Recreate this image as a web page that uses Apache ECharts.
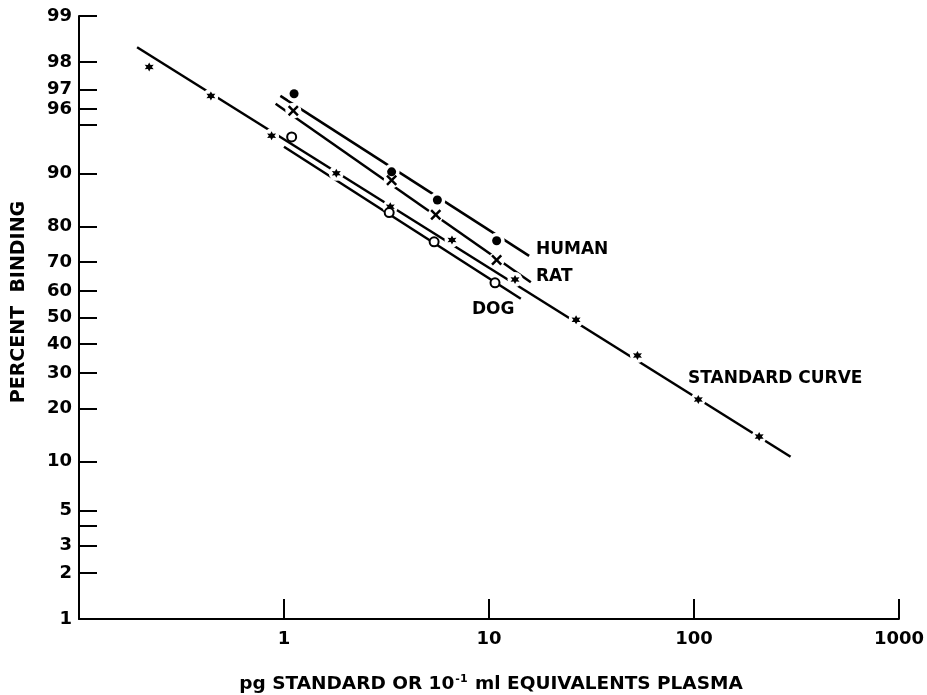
<!DOCTYPE html>
<html>
<head>
<meta charset="utf-8">
<script src="https://cdn.jsdelivr.net/npm/echarts@6/dist/echarts.min.js"></script>
<style>html,body{margin:0;padding:0;background:#fff}#c{width:927px;height:695px}</style>
</head>
<body>
<div id="c"></div>
<script>
// ---- data (x: pg / equivalents, y: percent binding) ----
const stdX = [0.22, 0.44, 0.87, 1.8, 3.3, 6.6, 13.4, 26.6, 53, 105, 208];
const stdY = [97.85, 96.7, 94.1, 90.0, 84.4, 76.5, 64.1, 49.1, 35.9, 22.3, 14.0];
const humanX = [1.12, 3.35, 5.6, 10.9];
const humanY = [96.8, 90.2, 85.7, 76.3];
const ratX = [1.11, 3.35, 5.5, 10.9];
const ratY = [95.9, 89.0, 82.7, 70.6];
const dogX = [1.09, 3.26, 5.4, 10.7];
const dogY = [94.0, 83.2, 76.0, 62.9];
// fitted lines (end points)
const stdLineX = [0.192, 296];
const stdLineY = [98.4, 10.7];
const humanLineX = [0.96, 15.7];
const humanLineY = [96.7, 71.9];
const ratLineX = [0.91, 16.0];
const ratLineY = [96.3, 63.1];
const dogLineX = [1.0, 14.3];
const dogLineY = [93.1, 57.1];
// axis ticks
const yTickPct = [1, 2, 3, 4, 5, 10, 20, 30, 40, 50, 60, 70, 80, 90, 95, 96, 97, 98, 99];
const yLabelPct = [1, 2, 3, 5, 10, 20, 30, 40, 50, 60, 70, 80, 90, 96, 97, 98, 99];
const xTicks = [1, 10, 100, 1000];
const seriesNames = ['HUMAN', 'RAT', 'DOG', 'STANDARD CURVE'];

const logit = p => Math.log((p / 100) / (1 - p / 100));
const pts = (xs, ys) => xs.map((x, i) => [x, logit(ys[i])]);

const FONT = 'DejaVu Sans';
const star = 'path://M5,0L6.3,2.75L9.33,2.5L7.6,5L9.33,7.5L6.3,7.25L5,10L3.7,7.25L0.67,7.5L2.4,5L0.67,2.5L3.7,2.75Z';
const cross = 'path://M0,1.6L1.6,0L5,3.4L8.4,0L10,1.6L6.6,5L10,8.4L8.4,10L5,6.6L1.6,10L0,8.4L3.4,5Z';

function lineSeries(xs, ys) {
  return { type: 'line', data: pts(xs, ys), symbol: 'none', z: 2, silent: true,
    lineStyle: { color: '#000', width: 2.5 }, animation: false };
}
function maskSeries(xs, ys, size) {
  return { type: 'scatter', data: pts(xs, ys), symbol: 'circle', symbolSize: size, z: 3, silent: true,
    itemStyle: { color: '#fff', opacity: 1 }, animation: false };
}
function scatterSeries(name, xs, ys, symbol, size, style) {
  return { name: name, type: 'scatter', data: pts(xs, ys), symbol: symbol, symbolSize: size, z: 4,
    itemStyle: Object.assign({ opacity: 1 }, style), animation: false };
}

const chart = echarts.init(document.getElementById('c'));
chart.setOption({
  backgroundColor: '#fff',
  animation: false,
  grid: { left: 79, right: 27, top: 16, bottom: 76, containLabel: false },
  xAxis: {
    type: 'log', logBase: 10, min: 0.1, max: 1000,
    axisLine: { onZero: false, lineStyle: { color: '#000', width: 2 } },
    axisTick: { inside: true, length: 20, customValues: xTicks, lineStyle: { color: '#000', width: 2 } },
    axisLabel: { customValues: xTicks, color: '#000', fontSize: 18, fontWeight: 'bold', fontFamily: FONT, margin: 11,
      formatter: v => String(Math.round(v)) },
    splitLine: { show: false }, minorTick: { show: false }
  },
  yAxis: {
    type: 'value', min: logit(1), max: logit(99),
    axisLine: { show: true, onZero: false, lineStyle: { color: '#000', width: 2 } },
    axisTick: { show: true, inside: true, length: 18, customValues: yTickPct.map(logit), lineStyle: { color: '#000', width: 2 } },
    axisLabel: { customValues: yLabelPct.map(logit), color: '#000', fontSize: 18, fontWeight: 'bold', fontFamily: FONT, margin: 7,
      formatter: v => String(Math.round(100 / (1 + Math.exp(-v)))) },
    splitLine: { show: false }
  },
  series: [
    lineSeries(stdLineX, stdLineY),
    lineSeries(humanLineX, humanLineY),
    lineSeries(ratLineX, ratLineY),
    lineSeries(dogLineX, dogLineY),
    maskSeries(stdX, stdY, 15),
    maskSeries(humanX, humanY, 16),
    maskSeries(ratX, ratY, 16),
    scatterSeries(seriesNames[3], stdX, stdY, star, 9, { color: '#000' }),
    scatterSeries(seriesNames[0], humanX, humanY, 'circle', 9, { color: '#000' }),
    scatterSeries(seriesNames[1], ratX, ratY, cross, 11, { color: '#000' }),
    scatterSeries(seriesNames[2], dogX, dogY, 'circle', 9, { color: '#fff', borderColor: '#000', borderWidth: 2 })
  ],
  graphic: [
    { type: 'text', left: 536, top: 241, style: { text: seriesNames[0], font: 'bold 17px ' + FONT, fill: '#000' } },
    { type: 'text', left: 536, top: 268, style: { text: seriesNames[1], font: 'bold 17px ' + FONT, fill: '#000' } },
    { type: 'text', left: 472, top: 301, style: { text: seriesNames[2], font: 'bold 17px ' + FONT, fill: '#000' } },
    { type: 'text', left: 688, top: 370, style: { text: seriesNames[3], font: 'bold 17px ' + FONT, fill: '#000' } },
    { type: 'text', x: 19, y: 302, rotation: Math.PI / 2,
      style: { text: 'PERCENT  BINDING', font: 'bold 19px ' + FONT, fill: '#000', align: 'center', verticalAlign: 'middle' } },
    { type: 'text', x: 491, y: 684,
      style: { text: '{a|pg STANDARD OR 10}{s|-1}{a| ml EQUIVALENTS PLASMA}', align: 'center', verticalAlign: 'middle',
        rich: { a: { font: 'bold 18.5px ' + FONT, fill: '#000', color: '#000' },
                s: { font: 'bold 11px ' + FONT, fill: '#000', color: '#000', padding: [0, 1, 9, 1] } } } }
  ]
});
</script>
</body>
</html>
